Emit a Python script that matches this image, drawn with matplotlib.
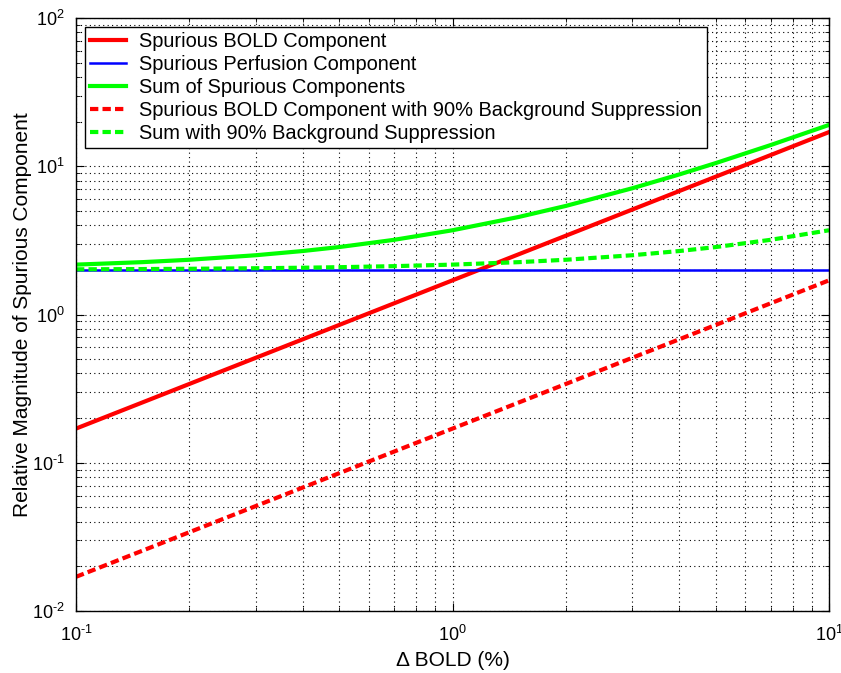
import matplotlib
matplotlib.use("Agg")
import matplotlib.pyplot as plt
from matplotlib.ticker import FuncFormatter
import math

plt.rcParams['font.family'] = ['Liberation Sans', 'DejaVu Sans']
plt.rcParams['mathtext.fontset'] = 'custom'
plt.rcParams['mathtext.rm'] = 'Liberation Sans'
plt.rcParams['mathtext.it'] = 'Liberation Sans:italic'
plt.rcParams['mathtext.default'] = 'regular'

# Data
delta_bold = [0.1, 0.15, 0.2, 0.3, 0.4, 0.5, 0.7, 1.0, 1.5, 2.0, 3.0, 4.0, 5.0, 7.0, 10.0]
bold_comp = [0.17, 0.255, 0.34, 0.51, 0.68, 0.85, 1.19, 1.7, 2.55, 3.4, 5.1, 6.8, 8.5, 11.9, 17.0]
perf_comp = [2.0] * 15
sum_comp = [2.17, 2.255, 2.34, 2.51, 2.68, 2.85, 3.19, 3.7, 4.55, 5.4, 7.1, 8.8, 10.5, 13.9, 19.0]
bold_bs = [0.017, 0.0255, 0.034, 0.051, 0.068, 0.085, 0.119, 0.17, 0.255, 0.34, 0.51, 0.68, 0.85, 1.19, 1.7]
sum_bs = [2.017, 2.0255, 2.034, 2.051, 2.068, 2.085, 2.119, 2.17, 2.255, 2.34, 2.51, 2.68, 2.85, 3.19, 3.7]

labels = ["Spurious BOLD Component",
          "Spurious Perfusion Component",
          "Sum of Spurious Components",
          "Spurious BOLD Component with 90% Background Suppression",
          "Sum with 90% Background Suppression"]


def pow10(v, pos):
    e = int(round(math.log10(v)))
    if e < 0:
        return r"$10^{\text{-}%d}$" % (-e)
    return r"$10^{%d}$" % e


fig = plt.figure(figsize=(8.41, 6.73), dpi=100)
ax = fig.add_axes([76/841, 62/673, (829-76)/841, (611-18)/673])

ax.plot(delta_bold, bold_comp, color='#ff0000', lw=3.0, label=labels[0])
ax.plot(delta_bold, perf_comp, color='#0000ff', lw=1.8, label=labels[1])
ax.plot(delta_bold, sum_comp, color='#00ff00', lw=3.0, label=labels[2])
ax.plot(delta_bold, bold_bs, color='#ff0000', lw=3.0, ls=(0, (2, 1)), label=labels[3])
ax.plot(delta_bold, sum_bs, color='#00ff00', lw=3.0, ls=(0, (2, 1)), label=labels[4])

ax.set_xscale('log')
ax.set_yscale('log')
ax.set_xlim(0.1, 10)
ax.set_ylim(0.01, 100)
ax.xaxis.set_major_formatter(FuncFormatter(pow10))
ax.yaxis.set_major_formatter(FuncFormatter(pow10))

ax.grid(True, which='both', color='black', ls=(0, (1, 3)), lw=0.8)
ax.tick_params(which='both', direction='in', top=True, right=True, labelsize=13)
ax.tick_params(which='major', length=6)
ax.tick_params(which='minor', length=3)
ax.tick_params(axis='x', pad=10)
ax.tick_params(axis='y', pad=8)
for s in ax.spines.values():
    s.set_linewidth(1.0)

ax.set_xlabel("Δ BOLD (%)", fontsize=15)
ax.set_ylabel("Relative Magnitude of Spurious Component", fontsize=15, labelpad=0)

leg = ax.legend(loc='upper left', fontsize=14.4, handlelength=1.8, fancybox=False,
                framealpha=1, edgecolor='black', borderaxespad=0.45,
                labelspacing=0.2, handletextpad=0.65, borderpad=0.25)
leg.get_frame().set_linewidth(1.0)

fig.savefig("out.png", dpi=100)
